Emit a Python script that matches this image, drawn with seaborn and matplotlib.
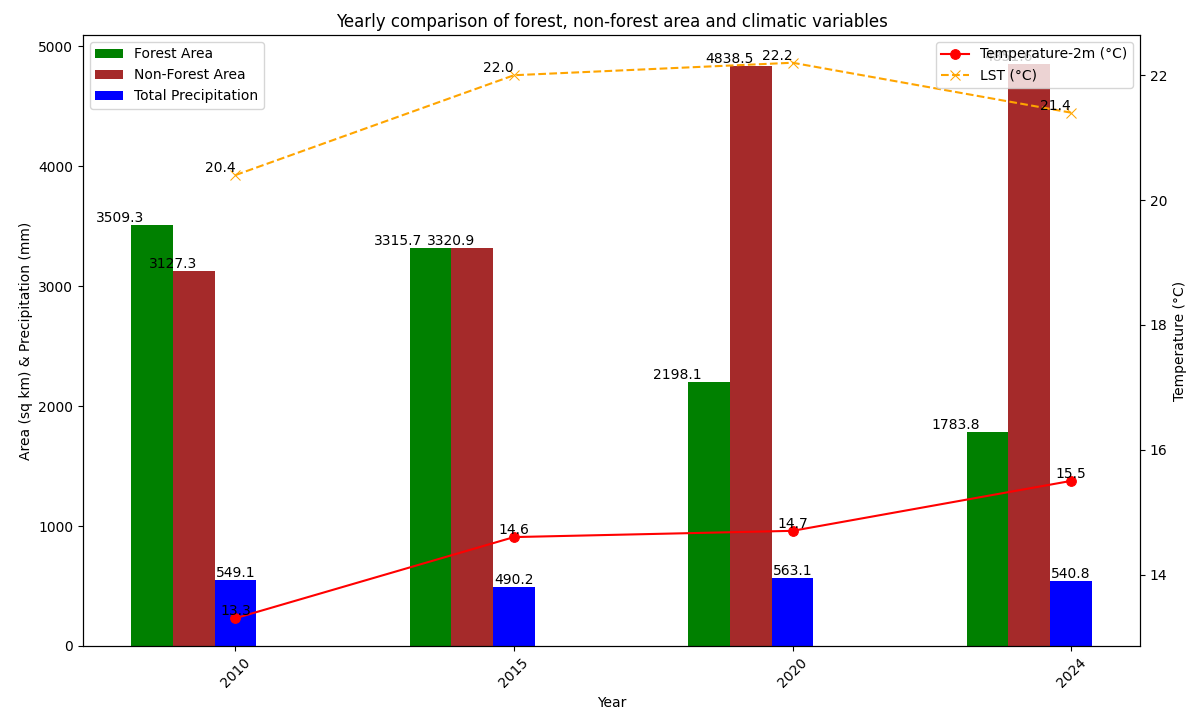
import matplotlib
matplotlib.use('Agg')
import matplotlib.pyplot as plt
import seaborn as sb
import numpy as np

years = ['2010', '2015', '2020', '2024']
forest_area = [3509.3, 3315.7, 2198.1, 1783.8]
non_forest_area = [3127.3, 3320.9, 4838.5, 4851.6]
precipitation = [549.1, 490.2, 563.1, 540.8]
temp_2m = [13.3, 14.6, 14.7, 15.5]
lst = [20.4, 22.0, 22.2, 21.4]

# plain matplotlib look, seaborn only draws the lines
sb.reset_orig()
plt.rcParams['font.family'] = ['DejaVu Sans']

x = np.arange(len(years))
w = 0.15

fig, ax1 = plt.subplots(figsize=(11.97, 7.18), dpi=100)

ax1.bar(x - 2 * w, forest_area, w, color='green', label='Forest Area')
ax1.bar(x - w, non_forest_area, w, color='brown', label='Non-Forest Area')
ax1.bar(x, precipitation, w, color='blue', label='Total Precipitation')

for i in range(len(years)):
    ax1.text(x[i] - 0.415, forest_area[i], '{:.1f}'.format(forest_area[i]), ha='center', va='bottom', fontsize=10)
    ax1.text(x[i] - 0.225, non_forest_area[i], '{:.1f}'.format(non_forest_area[i]), ha='center', va='bottom', fontsize=10)
    ax1.text(x[i], precipitation[i], '{:.1f}'.format(precipitation[i]), ha='center', va='bottom', fontsize=10)

ax1.set_xlabel('Year')
ax1.set_ylabel('Area (sq km) & Precipitation (mm)')
ax1.set_xticks(x)
ax1.set_xticklabels(years, rotation=45)
ax1.legend(loc='upper left')

ax2 = ax1.twinx()
sb.lineplot(x=x, y=temp_2m, ax=ax2, color='red', marker='o', markersize=7,
            markeredgecolor='red', label='Temperature-2m (°C)')
sb.lineplot(x=x, y=lst, ax=ax2, color='orange', marker='x', markersize=7,
            markeredgecolor='orange', linestyle='--', label='LST (°C)')
for i in range(len(years)):
    ax2.text(x[i], temp_2m[i], '{:.1f}'.format(temp_2m[i]), ha='center', va='bottom', fontsize=10)
    ax2.text(x[i], lst[i], '{:.1f}'.format(lst[i]), ha='right', va='bottom', fontsize=10)
ax2.set_ylabel('Temperature (°C)')
ax2.legend(loc='upper right')

plt.title('Yearly comparison of forest, non-forest area and climatic variables')
plt.subplots_adjust(left=0.0693, right=0.9524, top=0.9513, bottom=0.1003)
plt.savefig('out.png', dpi=100)
